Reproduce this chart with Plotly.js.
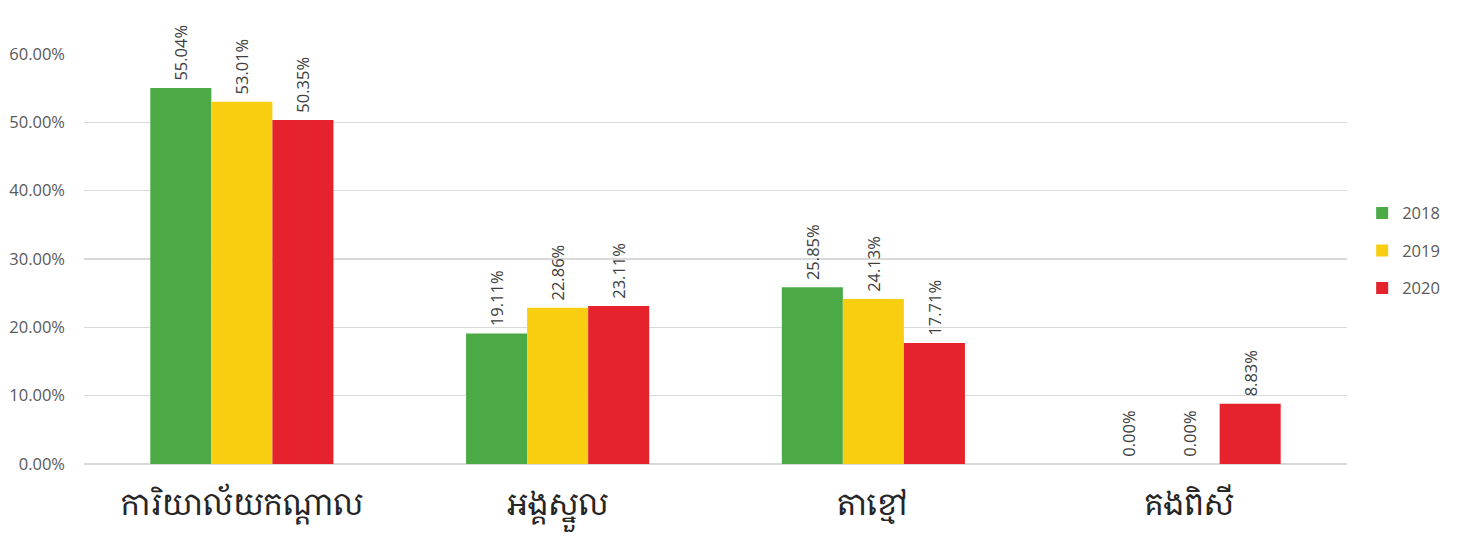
<!DOCTYPE html>
<html><head><meta charset="utf-8">
<script src="https://cdn.plot.ly/plotly-3.0.1.min.js"></script>
<style>body{margin:0;background:#fff}#c{width:1457px;height:550px}</style>
</head><body><div id="c"></div>
<script>
var categories = ["ការិយាល័យកណ្តាល", "អង្គស្នួល", "តាខ្មៅ", "គងពិសី"];
var years = ["2018", "2019", "2020"];
var v2018 = [0.5504, 0.1911, 0.2585, 0.0];
var v2019 = [0.5301, 0.2286, 0.2413, 0.0];
var v2020 = [0.5035, 0.2311, 0.1771, 0.0883];
var colors = ["#4BAA46", "#F9CE11", "#E6232C"];
var series = [v2018, v2019, v2020];
var traces = series.map(function(vals, i){
  return {
    type: "bar", name: years[i], legendgroup: "g" + i, x: categories, y: vals,
    marker: {color: colors[i]},
    text: vals.map(function(v){ return "\u00a0" + (v*100).toFixed(2) + "%"; }),
    textposition: "outside", textangle: -90, constraintext: "none",
    textfont: {family: "Open Sans, Liberation Sans, sans-serif", size: 16.5, color: "#404040"},
    cliponaxis: false, hoverinfo: "none"
  };
});
var layout = {
  width: 1457, height: 550,
  margin: {l: 84, r: 100, t: 54, b: 86},
  paper_bgcolor: "#fff", plot_bgcolor: "#fff",
  barmode: "group", bargap: 0.42, bargroupgap: 0,
  font: {family: "Open Sans, Liberation Sans, sans-serif", color: "#595959"},
  xaxis: {
    tickfont: {family: "Noto Serif Khmer, Khmer OS Siemreap, Noto Sans Khmer, serif", size: 30, color: "#262626"},
    showline: false, ticks: "", ticklabelstandoff: 20
  },
  yaxis: {
    range: [0, 0.6], dtick: 0.1, tickformat: ".2%",
    gridcolor: "#D9D9D9", gridwidth: 1.5, zeroline: true, zerolinecolor: "#D9D9D9", zerolinewidth: 1.5,
    tickfont: {size: 16.5, color: "#595959"}, ticklabelstandoff: 18, fixedrange: true
  },
  showlegend: true,
  legend: {x: 1.012, y: 0.52, yanchor: "middle", xanchor: "left",
    font: {size: 16.5, color: "#595959"}, tracegroupgap: 13, itemwidth: 30}
};
Plotly.newPlot("c", traces, layout, {staticPlot: true});
</script></body></html>
